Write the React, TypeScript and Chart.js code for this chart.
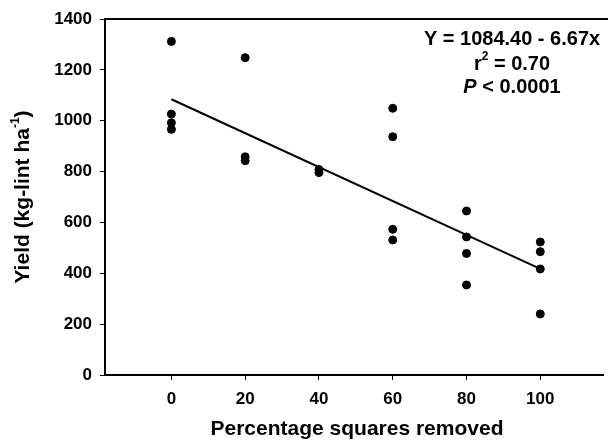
import React, { useEffect, useRef } from "react";
import { Chart, registerables } from "chart.js";

Chart.register(...registerables);

const xValues = [0, 0, 0, 0, 20, 20, 20, 40, 40, 60, 60, 60, 60, 80, 80, 80, 80, 100, 100, 100, 100];
const yValues = [1312, 1026, 992, 966, 1248, 858, 843, 808, 796, 1049, 937, 573, 531, 645, 543, 478, 354, 523, 485, 417, 240];
const xTicks = [0, 20, 40, 60, 80, 100];
const yTicks = [0, 200, 400, 600, 800, 1000, 1200, 1400];
const intercept = 1084.4;
const slope = -6.67;
const lineX = [0, 100];

const FONT = "'Liberation Sans', Arial, sans-serif";

const framePlugin = {
  id: "frame",
  afterDraw(chart: any) {
    const { ctx, chartArea } = chart;
    ctx.save();
    ctx.strokeStyle = "#000";
    ctx.lineWidth = 2;
    ctx.beginPath();
    ctx.moveTo(chartArea.left - 1, chartArea.top);
    ctx.lineTo(chart.width, chartArea.top);
    ctx.stroke();

    ctx.fillStyle = "#000";
    // annotation
    const cx = 512;
    const big = `bold 20px ${FONT}`;
    const bigI = `italic bold 20px ${FONT}`;
    const small = `bold 12px ${FONT}`;
    ctx.textAlign = "center";
    ctx.textBaseline = "middle";
    ctx.font = big;
    ctx.fillText("Y = 1084.40 - 6.67x", cx, 39);
    // r^2 line
    const r1 = "r";
    const r2 = " = 0.70";
    ctx.font = big;
    const w1 = ctx.measureText(r1).width;
    const w2 = ctx.measureText(r2).width;
    ctx.font = small;
    const ws = ctx.measureText("2").width;
    const total = w1 + ws + w2;
    let sx = cx - total / 2;
    ctx.textAlign = "left";
    ctx.font = big;
    ctx.fillText(r1, sx, 64);
    ctx.font = small;
    ctx.fillText("2", sx + w1, 57);
    ctx.font = big;
    ctx.fillText(r2, sx + w1 + ws, 64);
    // P line
    ctx.font = bigI;
    const wp = ctx.measureText("P").width;
    ctx.font = big;
    const wr = ctx.measureText(" < 0.0001").width;
    sx = cx - (wp + wr) / 2;
    ctx.font = bigI;
    ctx.fillText("P", sx, 87);
    ctx.font = big;
    ctx.fillText(" < 0.0001", sx + wp, 87);

    // x title
    ctx.textAlign = "center";
    ctx.font = `bold 21px ${FONT}`;
    ctx.fillText("Percentage squares removed", 357, 429);

    // y title (rotated)
    ctx.save();
    ctx.translate(23, 197);
    ctx.rotate(-Math.PI / 2);
    ctx.font = `bold 21px ${FONT}`;
    const a = "Yield (kg-lint ha";
    const b = ")";
    const wa = ctx.measureText(a).width;
    const wb = ctx.measureText(b).width;
    ctx.font = small;
    const wsup = ctx.measureText("-1").width;
    const tw = wa + wsup + wb;
    const px = -tw / 2;
    ctx.textAlign = "left";
    ctx.font = `bold 21px ${FONT}`;
    ctx.fillText(a, px, 0);
    ctx.font = small;
    ctx.fillText("-1", px + wa, -7);
    ctx.font = `bold 21px ${FONT}`;
    ctx.fillText(b, px + wa + wsup, 0);
    ctx.restore();

    ctx.restore();
  },
};

export default function App() {
  const ref = useRef<HTMLCanvasElement>(null);
  useEffect(() => {
    if (!ref.current) return;
    const points = xValues.map((x, i) => ({ x, y: yValues[i] }));
    const linePts = lineX.map((x) => ({ x, y: intercept + slope * x }));
    const chart = new Chart(ref.current, {
      type: "scatter",
      data: {
        datasets: [
          {
            type: "line",
            data: linePts,
            borderColor: "#000",
            borderWidth: 2,
            pointRadius: 0,
            fill: false,
          } as any,
          {
            data: points,
            backgroundColor: "#000",
            borderColor: "#000",
            pointRadius: 4,
            pointHoverRadius: 4,
          },
        ],
      },
      plugins: [framePlugin],
      options: {
        animation: false,
        responsive: false,
        events: [],
        layout: { padding: { top: 19, left: 0, right: 0, bottom: 0 } },
        plugins: { legend: { display: false }, tooltip: { enabled: false } },
        scales: {
          x: {
            type: "linear",
            min: -18,
            max: 117,
            afterBuildTicks: (s: any) => {
              s.ticks = xTicks.map((v) => ({ value: v }));
            },
            afterFit: (s: any) => {
              s.height = 67;
            },
            grid: { drawOnChartArea: false, drawTicks: true, tickLength: 5, color: "#000", lineWidth: 1 },
            border: { display: true, color: "#000", width: 2 },
            ticks: {
              color: "#000",
              padding: 9,
              callback: (v: any) => String(v),
              font: { family: FONT, size: 17, weight: "bold" },
            },
          },
          y: {
            type: "linear",
            min: 0,
            max: 1400,
            afterBuildTicks: (s: any) => {
              s.ticks = yTicks.map((v) => ({ value: v }));
            },
            afterFit: (s: any) => {
              s.width = 105;
            },
            grid: { drawOnChartArea: false, drawTicks: true, tickLength: 5, color: "#000", lineWidth: 1 },
            border: { display: true, color: "#000", width: 2 },
            ticks: {
              color: "#000",
              padding: 8,
              callback: (v: any) => String(v),
              font: { family: FONT, size: 17, weight: "bold" },
            },
          },
        },
      },
    } as any);
    return () => chart.destroy();
  }, []);
  return (
    <div style={{ position: "absolute", left: 0, top: 0, width: 608, height: 442, background: "#fff" }}>
      <canvas ref={ref} width={608} height={442} style={{ width: 608, height: 442 }} />
    </div>
  );
}
